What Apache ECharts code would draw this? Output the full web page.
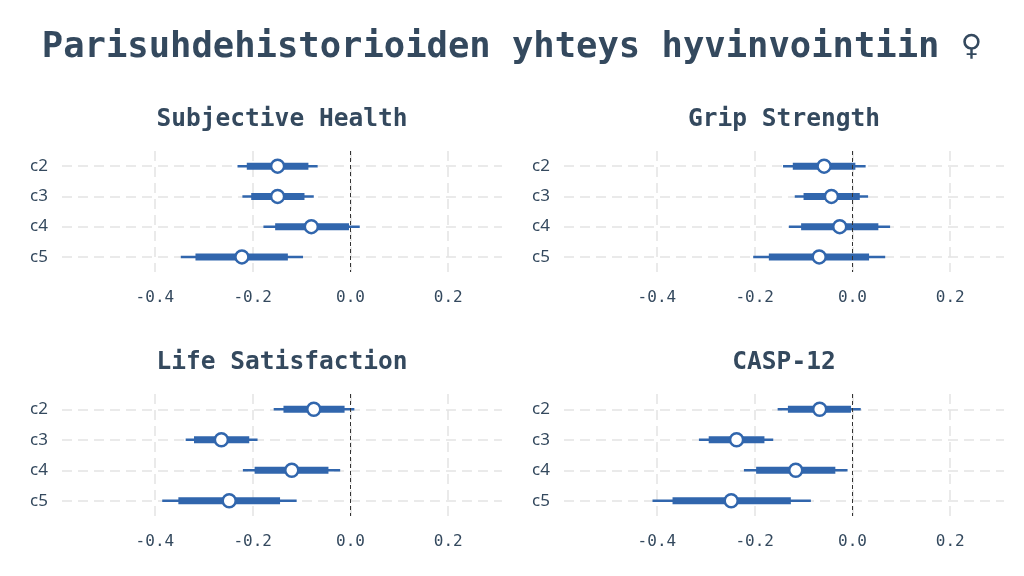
<!DOCTYPE html>
<html>
<head>
<meta charset="utf-8">
<script src="https://cdn.jsdelivr.net/npm/echarts@6/dist/echarts.min.js"></script>
<style>
html,body{margin:0;padding:0;background:#fff;}
#chart{width:1024px;height:576px;}
</style>
</head>
<body>
<div id="chart"></div>
<script>
const categories = ['c2', 'c3', 'c4', 'c5'];
const panelTitles = ['Subjective Health', 'Grip Strength', 'Life Satisfaction', 'CASP-12'];
const xTickValues = [-0.4, -0.2, 0.0, 0.2];

// Subjective Health
const healthPoint = [-0.149, -0.149, -0.080, -0.222];
const healthInner = [[-0.212, -0.086], [-0.203, -0.094], [-0.154, -0.003], [-0.317, -0.128]];
const healthOuter = [[-0.231, -0.067], [-0.221, -0.075], [-0.178, 0.019], [-0.347, -0.097]];
// Grip Strength
const gripPoint = [-0.058, -0.043, -0.026, -0.068];
const gripInner = [[-0.122, 0.006], [-0.100, 0.015], [-0.105, 0.053], [-0.171, 0.034]];
const gripOuter = [[-0.142, 0.027], [-0.118, 0.032], [-0.130, 0.077], [-0.203, 0.067]];
// Life Satisfaction
const lifePoint = [-0.075, -0.264, -0.120, -0.248];
const lifeInner = [[-0.137, -0.012], [-0.320, -0.207], [-0.196, -0.045], [-0.352, -0.144]];
const lifeOuter = [[-0.157, 0.008], [-0.337, -0.190], [-0.220, -0.021], [-0.385, -0.110]];
// CASP-12
const caspPoint = [-0.067, -0.237, -0.116, -0.248];
const caspInner = [[-0.132, -0.003], [-0.294, -0.180], [-0.197, -0.035], [-0.368, -0.126]];
const caspOuter = [[-0.153, 0.017], [-0.314, -0.162], [-0.222, -0.010], [-0.409, -0.085]];

const panelPoints = [healthPoint, gripPoint, lifePoint, caspPoint];
const panelInner = [healthInner, gripInner, lifeInner, caspInner];
const panelOuter = [healthOuter, gripOuter, lifeOuter, caspOuter];

const BLUE = '#3166ad';
const TEXT = '#34495e';
const MONO = '"DejaVu Sans Mono", monospace';

const gridPos = [
  {left: 62, top: 151, width: 440, height: 121},
  {left: 564, top: 151, width: 440, height: 121},
  {left: 62, top: 394, width: 440, height: 122},
  {left: 564, top: 394, width: 440, height: 122}
];
const titleCenters = [[277, 102], [779, 102], [277, 345], [779, 345]];

const chart = echarts.init(document.getElementById('chart'), null, {renderer: 'canvas'});

const titles = [{
  text: 'Parisuhdehistorioiden yhteys hyvinvointiin \u2640',
  left: 507, top: 25, textAlign: 'center',
  textStyle: {fontFamily: MONO, fontWeight: 'bold', fontSize: 35.5, color: TEXT}
}];
const grids = [], xAxes = [], yAxes = [], series = [];

for (let i = 0; i < 4; i++) {
  titles.push({
    text: panelTitles[i], left: titleCenters[i][0], top: titleCenters[i][1], textAlign: 'center',
    textStyle: {fontFamily: MONO, fontWeight: 'bold', fontSize: 24.5, color: TEXT}
  });
  grids.push(Object.assign({containLabel: false}, gridPos[i]));
  xAxes.push({
    type: 'value', gridIndex: i, min: -0.59, max: 0.31,
    axisLine: {show: false}, axisTick: {show: false, customValues: xTickValues},
    axisLabel: {customValues: xTickValues, fontFamily: MONO, fontSize: 16, color: TEXT, margin: 18,
      formatter: v => v.toFixed(1)},
    splitLine: {show: true, lineStyle: {color: '#e4e4e4', width: 1.5, type: [10, 6]}}
  });
  yAxes.push({
    type: 'category', gridIndex: i, data: categories, inverse: true,
    axisLine: {show: false}, axisTick: {show: false},
    axisLabel: {fontFamily: '"Noto Sans", sans-serif', fontSize: 17, color: TEXT, margin: 14},
    splitLine: {show: false}
  });
  const data = categories.map((c, k) => [k, panelOuter[i][k][0], panelOuter[i][k][1],
    panelInner[i][k][0], panelInner[i][k][1], panelPoints[i][k]]);
  // background horizontal dashed guide lines
  series.push({
    type: 'line', xAxisIndex: i, yAxisIndex: i, data: [], silent: true,
    markLine: {
      silent: true, symbol: 'none', z: 1, label: {show: false},
      lineStyle: {color: '#e4e4e4', width: 1.5, type: [10, 6]},
      data: categories.map(c => ({yAxis: c}))
    }
  });
  series.push({
    type: 'custom', xAxisIndex: i, yAxisIndex: i, data: data, z: 3,
    encode: {x: [1, 2, 3, 4, 5], y: 0},
    renderItem: function (params, api) {
      const y = api.value(0);
      const o1 = api.coord([api.value(1), y]);
      const o2 = api.coord([api.value(2), y]);
      const n1 = api.coord([api.value(3), y]);
      const n2 = api.coord([api.value(4), y]);
      const p = api.coord([api.value(5), y]);
      return {
        type: 'group',
        children: [
          {type: 'line', shape: {x1: o1[0], y1: o1[1], x2: o2[0], y2: o2[1]},
            style: {stroke: BLUE, lineWidth: 2.5, lineCap: 'butt'}},
          {type: 'line', shape: {x1: n1[0], y1: n1[1], x2: n2[0], y2: n2[1]},
            style: {stroke: BLUE, lineWidth: 7, lineCap: 'butt'}},
          {type: 'circle', shape: {cx: p[0], cy: p[1], r: 6.5},
            style: {fill: '#ffffff', stroke: BLUE, lineWidth: 2.5}}
        ]
      };
    },
    markLine: {
      silent: true, symbol: 'none', z: 6, label: {show: false},
      lineStyle: {color: '#333333', width: 1, type: [4, 3]},
      data: [{xAxis: 0}]
    }
  });
}

chart.setOption({
  backgroundColor: '#ffffff',
  animation: false,
  title: titles,
  grid: grids,
  xAxis: xAxes,
  yAxis: yAxes,
  series: series
});
</script>
</body>
</html>
